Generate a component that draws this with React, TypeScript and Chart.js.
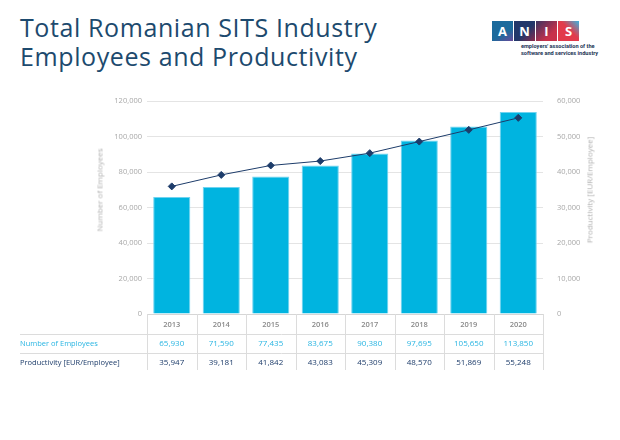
import { useEffect, useRef } from "react";
import { Chart, registerables } from "chart.js";

Chart.register(...registerables);

const years = ["2013", "2014", "2015", "2016", "2017", "2018", "2019", "2020"];
const employees = [65930, 71590, 77435, 83675, 90380, 97695, 105650, 113850];
const productivity = [35947, 39181, 41842, 43083, 45309, 48570, 51869, 55248];
const rowLabels = ["Number of Employees", "Productivity [EUR/Employee]"];

const BAR = "#00b4e0";
const NAVY = "#1d3c6a";
const LIGHT = "#29b5e2";
const FONT = "'Open Sans', sans-serif";

const fmt = (v: number) => v.toLocaleString("en-US");

// draws the data table under the x axis, aligned to the category scale
const tablePlugin = {
  id: "dataTable",
  afterDraw(chart: Chart) {
    const { ctx, chartArea } = chart;
    const x = chart.scales.x;
    const w = x.getPixelForValue(1) - x.getPixelForValue(0);
    const top = chartArea.bottom;
    const row1 = top + 20;
    const row2 = top + 39;
    const bottom = top + 56;
    ctx.save();
    ctx.strokeStyle = "#dcdcdc";
    ctx.lineWidth = 1;
    for (let i = 0; i <= years.length; i++) {
      const px = Math.round(chartArea.left + i * w) + 0.5;
      ctx.beginPath();
      ctx.moveTo(px, top);
      ctx.lineTo(px, bottom);
      ctx.stroke();
    }
    [row1, row2].forEach((y) => {
      ctx.beginPath();
      ctx.moveTo(20, Math.round(y) + 0.5);
      ctx.lineTo(chartArea.right, Math.round(y) + 0.5);
      ctx.stroke();
    });
    ctx.textBaseline = "middle";
    ctx.textAlign = "center";
    years.forEach((yr, i) => {
      const cx = x.getPixelForValue(i);
      ctx.font = `600 7.5px ${FONT}`;
      ctx.fillStyle = "#8a8a8a";
      ctx.fillText(yr, cx, top + 11);
      ctx.font = `400 8px ${FONT}`;
      ctx.fillStyle = LIGHT;
      ctx.fillText(fmt(employees[i]), cx, top + 30);
      ctx.fillStyle = NAVY;
      ctx.fillText(fmt(productivity[i]), cx, top + 49);
    });
    ctx.textAlign = "left";
    ctx.font = `400 7.5px ${FONT}`;
    ctx.fillStyle = LIGHT;
    ctx.fillText(rowLabels[0], 20, top + 30);
    ctx.fillStyle = NAVY;
    ctx.fillText(rowLabels[1], 20, top + 49);
    ctx.restore();
  },
};

export default function App() {
  const canvasRef = useRef<HTMLCanvasElement>(null);
  const chartRef = useRef<Chart | null>(null);

  useEffect(() => {
    document.body.style.margin = "0";
    if (!canvasRef.current) return;
    chartRef.current?.destroy();
    chartRef.current = new Chart(canvasRef.current, {
      type: "bar",
      data: {
        labels: years,
        datasets: [
          {
            type: "line",
            label: "Productivity",
            data: productivity,
            yAxisID: "y1",
            borderColor: NAVY,
            borderWidth: 1,
            backgroundColor: NAVY,
            pointStyle: "rectRot",
            pointRadius: 3.5,
            tension: 0,
            order: 0,
          },
          {
            label: "Employees",
            data: employees,
            yAxisID: "y",
            backgroundColor: BAR,
            borderColor: "#6fd3f0",
            borderWidth: 1,
            categoryPercentage: 1,
            barPercentage: 0.75,
            order: 1,
          },
        ],
      },
      options: {
        responsive: false,
        animation: false,
        layout: { padding: { top: 101, bottom: 126, left: 0, right: 0 } },
        plugins: { legend: { display: false }, tooltip: { enabled: false } },
        scales: {
          x: {
            ticks: { display: false },
            grid: { display: false },
            border: { display: true, color: "#d6d6d6" },
            afterFit: (s) => {
              s.height = 0;
            },
          },
          y: {
            position: "left",
            min: 0,
            max: 120000,
            ticks: {
              stepSize: 20000,
              padding: 5,
              color: "#a8a8a8",
              font: { family: FONT, size: 7.5 },
              callback: (v) => fmt(Number(v)),
            },
            grid: { color: "#e4e4e4", drawTicks: false },
            border: { display: false },
            afterFit: (s) => {
              s.width = 147;
            },
          },
          y1: {
            position: "right",
            min: 0,
            max: 60000,
            ticks: {
              stepSize: 10000,
              padding: 6,
              color: "#a8a8a8",
              font: { family: FONT, size: 7.5 },
              callback: (v) => fmt(Number(v)),
            },
            grid: { display: false },
            border: { display: false },
            afterFit: (s) => {
              s.width = 77;
            },
          },
        },
      },
      plugins: [tablePlugin],
    });
    return () => {
      chartRef.current?.destroy();
      chartRef.current = null;
    };
  }, []);

  const axisTitle = {
    position: "absolute" as const,
    top: 190,
    transform: "translate(-50%, -50%) rotate(-90deg)",
    whiteSpace: "nowrap" as const,
    fontFamily: FONT,
    fontSize: 8,
    color: "#b0b0b0",
  };

  const box = (bg: string, letter: string) => (
    <div
      style={{
        width: 21,
        height: 20,
        background: bg,
        color: "#fff",
        fontFamily: FONT,
        fontWeight: 700,
        fontSize: 13,
        display: "flex",
        alignItems: "center",
        justifyContent: "center",
      }}
    >
      {letter}
    </div>
  );

  return (
    <div
      style={{
        position: "relative",
        width: 620,
        height: 440,
        background: "#fff",
        overflow: "hidden",
      }}
    >
      <div
        style={{
          position: "absolute",
          left: 20,
          top: 13,
          fontFamily: FONT,
          fontSize: 25,
          letterSpacing: 0.6,
          lineHeight: "29px",
          color: "#1d4a6e",
          fontWeight: 400,
        }}
      >
        Total Romanian SITS Industry
        <br />
        Employees and Productivity
      </div>
      <div style={{ position: "absolute", left: 492, top: 21, display: "flex", gap: 1 }}>
        {box("linear-gradient(150deg, #1b6a9c 60%, #6a4a9a 100%)", "A")}
        {box("linear-gradient(135deg, #22376a 55%, #8a2a4c 100%)", "N")}
        {box("linear-gradient(135deg, #3b3462 0%, #c8314a 70%)", "I")}
        {box("linear-gradient(225deg, #3bb3e0 0%, #e23b4b 45%)", "S")}
      </div>
      <div
        style={{
          position: "absolute",
          left: 521,
          top: 43,
          fontFamily: "'Liberation Sans Narrow', 'Roboto', sans-serif",
          fontWeight: 700,
          fontSize: 5.6,
          lineHeight: "6.5px",
          color: "#1d3557",
          whiteSpace: "nowrap",
        }}
      >
        employers' association of the
        <br />
        software and services industry
      </div>
      <canvas
        ref={canvasRef}
        width={620}
        height={440}
        style={{ position: "absolute", left: 0, top: 0 }}
      ></canvas>
      <div style={{ ...axisTitle, left: 99 }}>Number of Employees</div>
      <div style={{ ...axisTitle, left: 589 }}>Productivity [EUR/Employee]</div>
    </div>
  );
}
